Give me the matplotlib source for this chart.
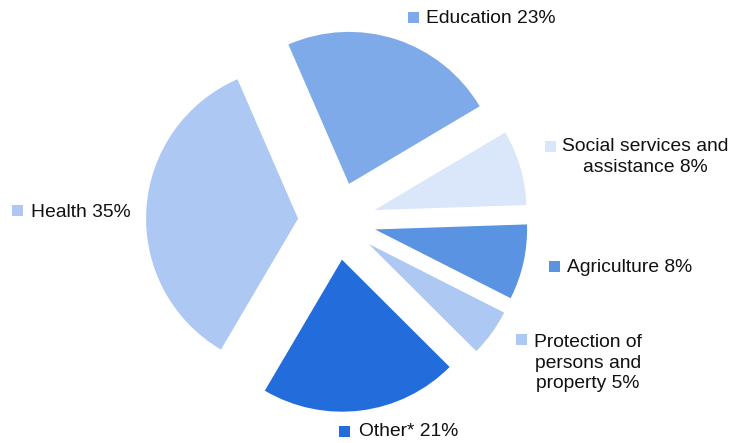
import matplotlib
matplotlib.use("Agg")
import matplotlib.pyplot as plt
from matplotlib.patches import Rectangle

# spending shares by sector (%), drawn clockwise from Education
sectors = ["Education", "Social services and\nassistance", "Agriculture",
           "Protection of\npersons and\nproperty", "Other*", "Health"]
shares = [23, 8, 8, 5, 21, 35]
colors = ["#7EAAE9", "#DAE6F9", "#5B93E3", "#ADC8F2", "#226CDC", "#ADC8F2"]

# label anchor: (x, y, ha, key box x, key box y) in pixel-like data units
label_pos = [
    (426, 425, "left", 408, 420),
    (645, 286, "center", 545, 291),
    (567, 176, "left", 549, 171),
    (588, 80, "center", 516, 98),
    (359, 11, "left", 339, 6),
    (31, 231, "left", 12, 227),
]

plt.rcParams["font.family"] = ["Liberation Sans", "DejaVu Sans"]

fig = plt.figure(figsize=(7.3, 4.43), dpi=100)
ax = fig.add_axes([0, 0, 1, 1])

# explode is in data units here, since the radius is too
ax.pie(shares, colors=colors, center=(337, 222), radius=152,
       startangle=113.5, counterclock=False,
       explode=[39] * len(shares),
       wedgeprops=dict(linewidth=0), frame=True)

for name, val, col, (tx, ty, ha, bx, by) in zip(sectors, shares, colors, label_pos):
    ax.add_patch(Rectangle((bx, by), 11, 11, facecolor=col, edgecolor="none"))
    ax.text(tx, ty, f"{name} {val}%", ha=ha, va="center", multialignment="center",
            fontsize=13.9, color="#111111", linespacing=1.25)

ax.set_xlim(0, 730)
ax.set_ylim(0, 443)
ax.set_aspect("equal")
ax.axis("off")

fig.savefig("out.png", dpi=100)
